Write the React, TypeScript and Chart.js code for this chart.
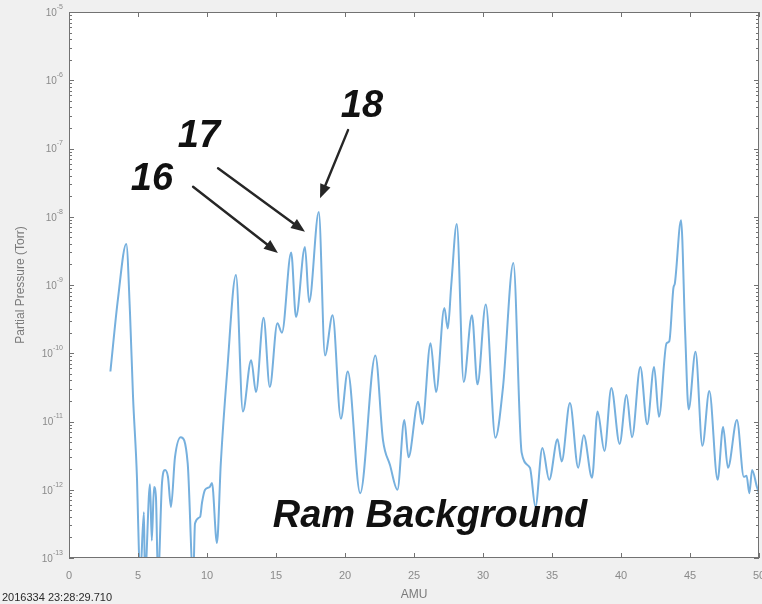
import React, { useEffect, useRef } from 'react';
import { Chart, registerables } from 'chart.js';

Chart.register(...registerables);

// ---- data (AMU vs partial pressure, Torr) ----
const amu = [
  3.0, 3.55, 4.15, 4.42, 4.64, 4.93, 5.0, 5.15, 5.43, 5.5,
  5.87, 6.0, 6.16, 6.3, 6.45, 6.74, 6.96, 7.17, 7.39, 7.68,
  8.1, 8.6, 9.0, 9.13, 9.5, 9.64, 9.86, 10.2, 10.36, 10.72,
  11.0, 11.45, 12.1, 12.6, 13.2, 13.55, 14.1, 14.55, 15.1, 15.43,
  16.1, 16.45, 17.1, 17.4, 18.1, 18.55, 19.1, 19.7, 20.2, 21.1,
  22.2, 22.75, 23.26, 23.8, 24.3, 24.6, 25.3, 25.6, 26.2, 26.6,
  27.2, 27.45, 27.7, 28.1, 28.6, 29.2, 29.6, 30.2, 30.9, 31.45,
  32.2, 32.8, 33.4, 33.8, 34.3, 34.8, 35.4, 35.7, 36.3, 36.9,
  37.3, 37.9, 38.3, 38.8, 39.3, 39.9, 40.4, 40.8, 41.4, 41.9,
  42.4, 42.75, 43.3, 43.5, 43.8, 43.9, 44.35, 44.65, 44.9, 45.4,
  45.9, 46.4, 47.0, 47.4, 47.75, 48.4, 48.9, 49.1, 49.3, 49.5,
  49.85, 50.0,
];

const pressure = [
  5.4e-11, 6.3e-10, 4.0e-9, 3.9e-10, 2.3e-11, 1.4e-12, 4.0e-13, 5.0e-14, 4.7e-13, 5.0e-14,
  1.2e-12, 1.8e-13, 1.1e-12, 7.8e-13, 5.0e-14, 1.26e-12, 1.95e-12, 1.55e-12, 5.6e-13, 3.0e-12,
  5.9e-12, 2.45e-12, 5.0e-14, 3.2e-13, 4.0e-13, 6.5e-13, 1.0e-12, 1.1e-12, 1.26e-12, 1.66e-13,
  2.45e-12, 5.0e-11, 1.4e-9, 1.4e-11, 7.9e-11, 2.7e-11, 3.3e-10, 3.2e-11, 2.75e-10, 2.0e-10,
  3.0e-9, 3.4e-10, 3.6e-9, 5.6e-10, 1.17e-8, 9.3e-11, 3.6e-10, 1.1e-11, 5.4e-11, 8.9e-13,
  9.3e-11, 5.4e-12, 2.3e-12, 1.0e-12, 1.05e-11, 3.0e-12, 1.95e-11, 9.1e-12, 1.4e-10, 2.7e-11,
  4.6e-10, 2.3e-10, 1.0e-9, 7.8e-9, 3.8e-11, 3.6e-10, 3.5e-11, 5.2e-10, 5.8e-12, 3.2e-11,
  2.1e-9, 3.5e-12, 2.1e-12, 5.6e-13, 4.1e-12, 1.4e-12, 5.5e-12, 2.6e-12, 1.86e-11, 2.1e-12,
  6.3e-12, 1.5e-12, 1.4e-11, 3.7e-12, 3.1e-11, 4.7e-12, 2.45e-11, 5.9e-12, 6.3e-11, 9.1e-12,
  6.3e-11, 1.17e-11, 1.4e-10, 1.5e-10, 9.1e-10, 1.05e-9, 8.9e-9, 2.0e-10, 1.5e-11, 1.05e-10,
  4.4e-12, 2.8e-11, 1.4e-12, 8.3e-12, 2.1e-12, 1.05e-11, 1.55e-12, 1.6e-12, 8.9e-13, 1.95e-12,
  1.1e-12, 8.9e-13,
];

// ---- axes & texts ----
const xTickValues = [0, 5, 10, 15, 20, 25, 30, 35, 40, 45, 50];
const yTickExponents = [-13, -12, -11, -10, -9, -8, -7, -6, -5];
const yTickBase = '10';
const yTickExponentLabels = ['-13', '-12', '-11', '-10', '-9', '-8', '-7', '-6', '-5'];
const xAxisTitle = 'AMU';
const yAxisTitle = 'Partial Pressure (Torr)';
const timestampText = '2016334 23:28:29.710';

// annotations (placed in data space)
const noteTexts = ['16', '17', '18', 'Ram Background'];
const noteAmu = [6.01, 9.42, 21.23, 26.16];
const notePressure = [2.45e-8, 1.05e-7, 2.88e-7, 2.82e-13];

const arrowFromAmu = [8.99, 10.8, 20.22];
const arrowFromPressure = [2.75e-8, 5.13e-8, 1.86e-7];
const arrowToAmu = [15.14, 17.1, 18.19];
const arrowToPressure = [2.95e-9, 6.03e-9, 1.86e-8];

const FONT = "'Liberation Sans', Arial, Helvetica, sans-serif";

function drawArrow(ctx: CanvasRenderingContext2D, x1: number, y1: number, x2: number, y2: number) {
  const ang = Math.atan2(y2 - y1, x2 - x1);
  const headLen = 14;
  const headW = 5.5;
  const bx = x2 - headLen * Math.cos(ang);
  const by = y2 - headLen * Math.sin(ang);
  ctx.beginPath();
  ctx.moveTo(x1, y1);
  ctx.lineTo(bx + 2 * Math.cos(ang), by + 2 * Math.sin(ang));
  ctx.stroke();
  ctx.beginPath();
  ctx.moveTo(x2, y2);
  ctx.lineTo(bx + headW * Math.sin(ang), by - headW * Math.cos(ang));
  ctx.lineTo(bx - headW * Math.sin(ang), by + headW * Math.cos(ang));
  ctx.closePath();
  ctx.fill();
}

const decorPlugin = {
  id: 'decor',
  beforeDraw(chart: any) {
    const { ctx, chartArea: a } = chart;
    ctx.save();
    ctx.fillStyle = '#f0f0f0';
    ctx.fillRect(0, 0, chart.width, chart.height);
    ctx.fillStyle = '#ffffff';
    ctx.fillRect(a.left, a.top, a.right - a.left, a.bottom - a.top);
    ctx.restore();
  },
  afterDatasetsDraw(chart: any) {
    const { ctx, chartArea: a, scales } = chart;
    const xs = scales.x;
    const ys = scales.y;
    ctx.save();
    ctx.strokeStyle = '#727272';
    ctx.lineWidth = 1;
    ctx.strokeRect(Math.round(a.left) + 0.5, Math.round(a.top) + 0.5, Math.round(a.right - a.left) - 1, Math.round(a.bottom - a.top) - 1);
    ctx.beginPath();
    // x ticks top & bottom
    xTickValues.forEach((v) => {
      const px = Math.round(xs.getPixelForValue(v)) + 0.5;
      ctx.moveTo(px, a.bottom);
      ctx.lineTo(px, a.bottom - 5);
      ctx.moveTo(px, a.top);
      ctx.lineTo(px, a.top + 5);
    });
    // y ticks (major + minor) left & right
    yTickExponents.forEach((e, i) => {
      const py = Math.round(ys.getPixelForValue(Math.pow(10, e))) + 0.5;
      ctx.moveTo(a.left, py);
      ctx.lineTo(a.left + 5, py);
      ctx.moveTo(a.right, py);
      ctx.lineTo(a.right - 5, py);
      if (i < yTickExponents.length - 1) {
        for (let m = 2; m <= 9; m++) {
          const pm = Math.round(ys.getPixelForValue(m * Math.pow(10, e))) + 0.5;
          ctx.moveTo(a.left, pm);
          ctx.lineTo(a.left + 3, pm);
          ctx.moveTo(a.right, pm);
          ctx.lineTo(a.right - 3, pm);
        }
      }
    });
    ctx.stroke();
    ctx.restore();
  },
  afterDraw(chart: any) {
    const { ctx, chartArea: a, scales } = chart;
    const xs = scales.x;
    const ys = scales.y;
    ctx.save();
    // y tick labels 10^n
    ctx.fillStyle = '#8a8a8a';
    ctx.textBaseline = 'middle';
    yTickExponents.forEach((e, i) => {
      const py = ys.getPixelForValue(Math.pow(10, e));
      const right = a.left - 6;
      ctx.font = `7px ${FONT}`;
      ctx.textAlign = 'right';
      const expLabel = yTickExponentLabels[i];
      const ew = ctx.measureText(expLabel).width;
      ctx.fillText(expLabel, right, py - 5);
      ctx.font = `10px ${FONT}`;
      ctx.fillText(yTickBase, right - ew, py + 1);
    });

    // timestamp
    ctx.fillStyle = '#2a2a2a';
    ctx.font = `11px ${FONT}`;
    ctx.textAlign = 'left';
    ctx.textBaseline = 'alphabetic';
    ctx.fillText(timestampText, 2, 601);

    // arrows
    ctx.strokeStyle = '#262626';
    ctx.fillStyle = '#262626';
    ctx.lineWidth = 2.4;
    ctx.lineCap = 'round';
    arrowFromAmu.forEach((fx, i) => {
      drawArrow(
        ctx,
        xs.getPixelForValue(fx),
        ys.getPixelForValue(arrowFromPressure[i]),
        xs.getPixelForValue(arrowToAmu[i]),
        ys.getPixelForValue(arrowToPressure[i])
      );
    });

    // annotation texts
    ctx.fillStyle = '#111111';
    ctx.font = `italic bold 38px ${FONT}`;
    ctx.textAlign = 'center';
    ctx.textBaseline = 'alphabetic';
    noteTexts.forEach((t, i) => {
      ctx.fillText(t, xs.getPixelForValue(noteAmu[i]), ys.getPixelForValue(notePressure[i]));
    });
    ctx.restore();
  },
};

export default function App() {
  const ref = useRef<HTMLCanvasElement>(null);

  useEffect(() => {
    document.body.style.margin = '0';
    Chart.defaults.font.family = FONT;
    const canvas = ref.current;
    if (!canvas) return;
    const chart = new Chart(canvas, {
      type: 'line',
      data: {
        datasets: [
          {
            data: amu.map((x, i) => ({ x, y: pressure[i] })),
            borderColor: 'rgb(118,176,222)',
            borderWidth: 2,
            pointRadius: 0,
            fill: false,
            cubicInterpolationMode: 'monotone',
            clip: 0,
          } as any,
        ],
      },
      options: {
        responsive: false,
        animation: false,
        devicePixelRatio: 1,
        events: [],
        layout: { padding: { top: 12, right: 3, left: 0, bottom: 0 } },
        plugins: { legend: { display: false }, tooltip: { enabled: false } },
        scales: {
          x: {
            type: 'linear',
            min: 0,
            max: 50,
            ticks: { stepSize: 5, padding: 11, color: '#8a8a8a', font: { size: 11 }, maxRotation: 0, autoSkip: false },
            grid: { display: false, drawTicks: false },
            border: { display: false },
            title: { display: true, text: xAxisTitle, color: '#7a7a7a', font: { size: 12 }, padding: { top: 0, bottom: 2 } },
            afterBuildTicks: (s: any) => {
              s.ticks = xTickValues.map((v) => ({ value: v }));
            },
            afterFit: (s: any) => {
              s.height = 46;
              s.paddingLeft = 0;
              s.paddingRight = 0;
            },
          },
          y: {
            type: 'logarithmic',
            min: 1e-13,
            max: 1e-5,
            ticks: { display: false },
            grid: { display: false, drawTicks: false },
            border: { display: false },
            title: { display: true, text: yAxisTitle, color: '#7a7a7a', font: { size: 12 }, padding: { top: 13, bottom: 0 } },
            afterBuildTicks: (s: any) => {
              s.ticks = yTickExponents.map((e) => ({ value: Math.pow(10, e) }));
            },
            afterFit: (s: any) => {
              s.width = 69;
              s.paddingTop = 0;
              s.paddingBottom = 0;
            },
          },
        },
      } as any,
      plugins: [decorPlugin],
    });
    return () => chart.destroy();
  }, []);

  return (
    <div style={{ width: 762, height: 604 }}>
      <canvas ref={ref} width={762} height={604} style={{ display: 'block' }} />
    </div>
  );
}
